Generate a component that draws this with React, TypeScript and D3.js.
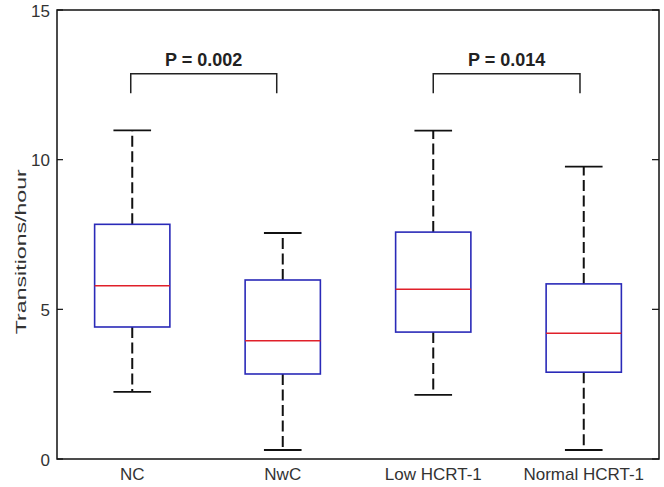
import React from "react";
import * as d3 from "d3";

const categories = ["NC", "NwC", "Low HCRT-1", "Normal HCRT-1"];
const whiskerLow = [2.24, 0.3, 2.14, 0.3];
const q1 = [4.41, 2.84, 4.24, 2.9];
const medians = [5.79, 3.95, 5.67, 4.2];
const q3 = [7.84, 5.98, 7.58, 5.85];
const whiskerHigh = [10.98, 7.55, 10.97, 9.77];
const yTicks = [0, 5, 10, 15];
const pLabels = ["P = 0.002", "P = 0.014"];
const bracketFrom = [0.99, 3.0];
const bracketTo = [1.96, 3.975];
const bracketTop = [12.87, 12.87];
const bracketBottom = [12.22, 12.22];

const W = 664;
const H = 487;
const L = 57, R = 659, T = 10, B = 459;
const FONT = "'Liberation Sans', Arial, sans-serif";

export default function App() {
  const x = d3.scaleLinear().domain([0.5, 4.5]).range([L, R]);
  const y = d3.scaleLinear().domain([0, 15]).range([B, T]);
  const boxHalf = 0.25;
  const capHalf = 0.125;
  const dash = "11,4.5";
  return (
    <svg width={W} height={H} style={{ position: "absolute", left: 0, top: 0, background: "#fff" }} fontFamily={FONT}>
      <rect x={0} y={0} width={W} height={H} fill="#fff" />
      {categories.map((c, i) => {
        const cx = x(i + 1);
        return (
          <g key={c}>
            <line x1={cx} x2={cx} y1={y(q3[i])} y2={y(whiskerHigh[i])} stroke="#111" strokeWidth={2} strokeDasharray={dash} />
            <line x1={cx} x2={cx} y1={y(q1[i])} y2={y(whiskerLow[i])} stroke="#111" strokeWidth={2} strokeDasharray={dash} />
            <line x1={x(i + 1 - capHalf)} x2={x(i + 1 + capHalf)} y1={y(whiskerHigh[i])} y2={y(whiskerHigh[i])} stroke="#111" strokeWidth={1.8} />
            <line x1={x(i + 1 - capHalf)} x2={x(i + 1 + capHalf)} y1={y(whiskerLow[i])} y2={y(whiskerLow[i])} stroke="#111" strokeWidth={1.8} />
            <rect x={x(i + 1 - boxHalf)} y={y(q3[i])} width={x(i + 1 + boxHalf) - x(i + 1 - boxHalf)} height={y(q1[i]) - y(q3[i])} fill="#fff" stroke="#2a2ab8" strokeWidth={1.6} />
            <line x1={x(i + 1 - boxHalf)} x2={x(i + 1 + boxHalf)} y1={y(medians[i])} y2={y(medians[i])} stroke="#e0202a" strokeWidth={1.6} />
            <text x={cx} y={B + 21} textAnchor="middle" fontSize={17} fill="#333">{c}</text>
          </g>
        );
      })}
      {pLabels.map((p, i) => {
        const x1 = x(bracketFrom[i]);
        const x2 = x(bracketTo[i]);
        const yt = y(bracketTop[i]);
        const yb = y(bracketBottom[i]);
        return (
          <g key={p}>
            <path d={`M${x1},${yb}V${yt}H${x2}V${yb}`} fill="none" stroke="#222" strokeWidth={1.5} />
            <text x={(x1 + x2) / 2} y={yt - 8} textAnchor="middle" fontSize={18} fontWeight="bold" fill="#222">{p}</text>
          </g>
        );
      })}
      <rect x={L} y={T} width={R - L} height={B - T} fill="none" stroke="#111" strokeWidth={1.5} />
      {yTicks.map((t) => (
        <g key={t}>
          <line x1={L} x2={L + 6} y1={y(t)} y2={y(t)} stroke="#111" strokeWidth={1.2} />
          <line x1={R} x2={R - 7} y1={y(t)} y2={y(t)} stroke="#111" strokeWidth={1.2} />
          <text x={50} y={y(t) + 6.5} textAnchor="end" fontSize={17} fill="#333">{t}</text>
        </g>
      ))}
      <text transform={`translate(25.5,251.7) rotate(-90)`} textAnchor="middle" fontSize={14} fill="#333" textLength={165} lengthAdjust="spacingAndGlyphs">Transitions/hour</text>
    </svg>
  );
}
